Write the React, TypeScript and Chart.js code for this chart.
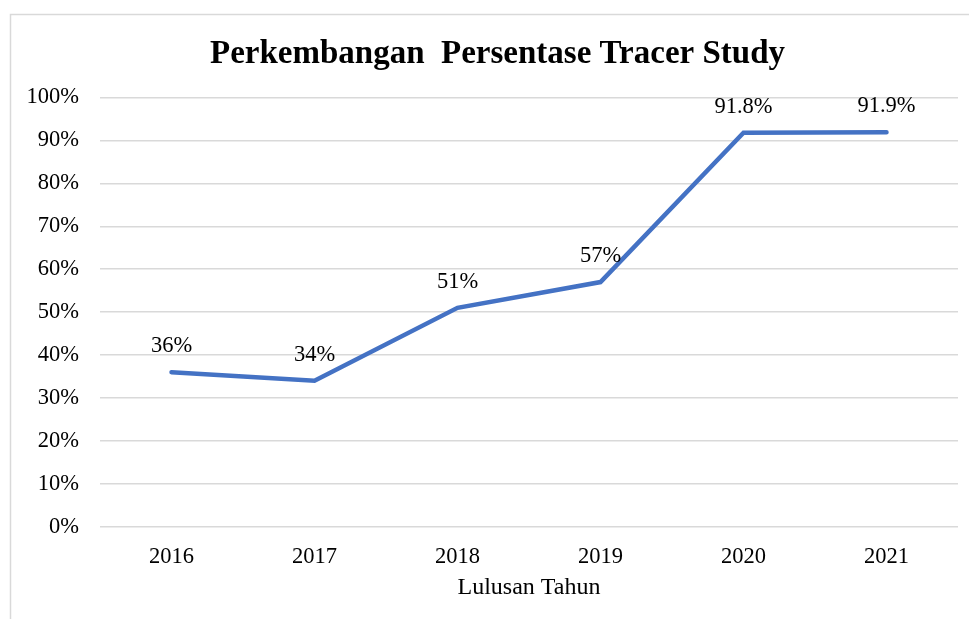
import React, { useEffect, useRef } from "react";
import { Chart, registerables } from "chart.js";

Chart.register(...registerables);

const years = ["2016", "2017", "2018", "2019", "2020", "2021"];
const percentages = [36, 34, 51, 57, 91.8, 91.9];
const yTicks = [0, 10, 20, 30, 40, 50, 60, 70, 80, 90, 100];
const chartTitle = "Perkembangan  Persentase Tracer Study";
const xAxisTitle = "Lulusan Tahun";

const SERIF = "'Liberation Serif', 'Times New Roman', serif";

const framePlugin = {
  id: "frame",
  beforeDraw(chart: any) {
    const ctx = chart.ctx;
    ctx.save();
    ctx.fillStyle = "#ffffff";
    ctx.fillRect(0, 0, chart.width, chart.height);
    ctx.strokeStyle = "#d9d9d9";
    ctx.lineWidth = 1.5;
    ctx.beginPath();
    ctx.moveTo(10.5, chart.height);
    ctx.lineTo(10.5, 14.5);
    ctx.lineTo(chart.width, 14.5);
    ctx.stroke();
    ctx.restore();
  },
};

const titlePlugin = {
  id: "customTitle",
  afterDraw(chart: any) {
    const ctx = chart.ctx;
    ctx.save();
    ctx.font = `bold 33px ${SERIF}`;
    ctx.fillStyle = "#000000";
    ctx.textAlign = "center";
    ctx.textBaseline = "alphabetic";
    ctx.fillText(chartTitle, 497.5, 62.5);
    ctx.restore();
  },
};

const valueLabelPlugin = {
  id: "valueLabels",
  afterDatasetsDraw(chart: any) {
    const ctx = chart.ctx;
    const meta = chart.getDatasetMeta(0);
    const data = chart.data.datasets[0].data as number[];
    ctx.save();
    ctx.font = `22.5px ${SERIF}`;
    ctx.fillStyle = "#000000";
    ctx.textAlign = "center";
    ctx.textBaseline = "alphabetic";
    meta.data.forEach((pt: any, i: number) => {
      const v = data[i];
      const txt = Number.isInteger(v) ? `${v}%` : `${v.toFixed(1)}%`;
      ctx.fillText(txt, pt.x, pt.y - 20);
    });
    ctx.restore();
  },
};

export default function App() {
  const ref = useRef<HTMLCanvasElement>(null);

  useEffect(() => {
    if (!ref.current) return;
    const chart = new Chart(ref.current, {
      type: "line",
      data: {
        labels: years,
        datasets: [
          {
            data: percentages,
            borderColor: "#4472C4",
            borderWidth: 4.5,
            borderCapStyle: "round",
            borderJoinStyle: "miter",
            pointRadius: 0,
            pointHoverRadius: 0,
            tension: 0,
            fill: false,
          },
        ],
      },
      options: {
        animation: false,
        responsive: false,
        devicePixelRatio: 1,
        layout: { padding: { left: 10, right: 11, top: 97.5, bottom: 0 } },
        plugins: {
          legend: { display: false },
          tooltip: { enabled: false },
          title: { display: false },
        },
        scales: {
          x: {
            offset: true,
            grid: { display: false, drawTicks: false },
            border: { display: false },
            ticks: {
              color: "#000000",
              font: { family: SERIF, size: 22.5 },
              padding: 17,
              maxRotation: 0,
            },
            title: {
              display: true,
              text: xAxisTitle,
              color: "#000000",
              font: { family: SERIF, size: 24 },
              padding: { top: 0, bottom: 16.7 },
            },
            afterFit: (scale: any) => {
              scale.height = 92.3;
            },
          },
          y: {
            min: 0,
            max: 100,
            afterBuildTicks: (scale: any) => {
              scale.ticks = yTicks.map((v) => ({ value: v }));
            },
            grid: { color: "#d9d9d9", lineWidth: 1.5, drawTicks: false },
            border: { display: false },
            ticks: {
              color: "#000000",
              font: { family: SERIF, size: 22.5 },
              padding: 21,
              callback: (v: any) => `${v}%`,
            },
            afterFit: (scale: any) => {
              scale.width = 90;
            },
          },
        },
      },
      plugins: [framePlugin, valueLabelPlugin, titlePlugin],
    });
    return () => chart.destroy();
  }, []);

  return (
    <div style={{ position: "fixed", left: 0, top: 0, width: 969, height: 619, background: "#fff" }}>
      <canvas ref={ref} width={969} height={619} style={{ width: 969, height: 619, display: "block" }} />
    </div>
  );
}
